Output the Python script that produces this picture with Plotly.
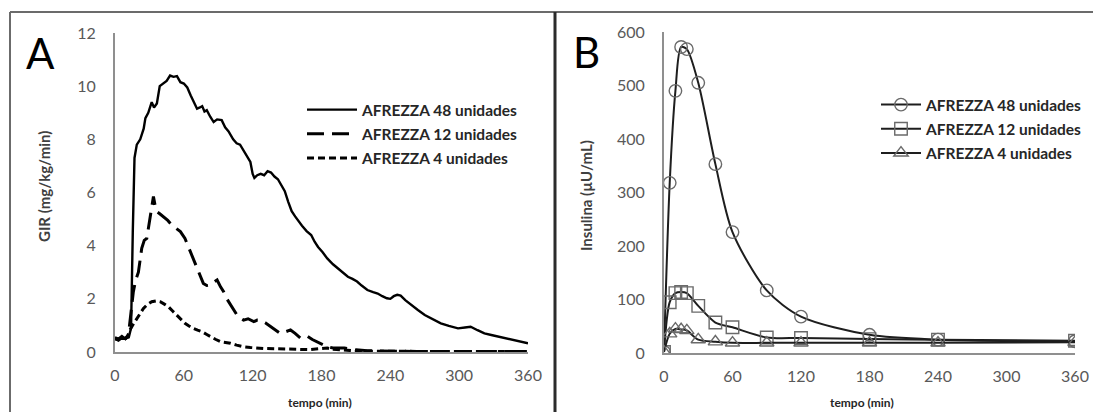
import plotly.graph_objects as go

# ---------------- data: panel A (GIR, mg/kg/min) ----------------
t_gir_48 = [0, 3, 6, 9, 12, 14, 15.5, 17, 19, 22, 25, 26.5, 29, 32, 34, 36.5, 39, 42, 45, 48, 51, 54, 57, 60,
            63, 66, 69, 71.5, 74, 76, 78, 80, 83, 86, 89, 93, 96, 99, 103, 106, 109, 112, 115, 118, 120, 121.5,
            124, 127, 130, 133, 136, 139, 142, 145, 148, 151, 154, 157, 160, 163, 167, 171, 174, 177, 181, 185,
            190, 194, 198, 203, 207, 211, 215, 220, 225, 229, 233, 237, 240, 243, 246, 249, 253, 258, 264, 270,
            277, 284, 291, 299, 305, 310, 316, 322, 328, 334, 340, 346, 353, 360]
gir_48 = [0.55, 0.5, 0.6, 0.5, 0.55, 0.9, 4.5, 7.3, 7.8, 8.0, 8.4, 8.8, 9.0, 9.4, 9.2, 9.35, 10.0, 10.1, 10.2, 10.4,
          10.35, 10.38, 10.15, 10.1, 9.95, 9.65, 9.4, 9.15, 9.2, 9.25, 9.05, 9.1, 8.85, 8.65, 8.75, 8.72, 8.45,
          8.3, 8.0, 7.85, 7.8, 7.6, 7.35, 7.15, 6.7, 6.55, 6.65, 6.7, 6.65, 6.8, 6.75, 6.6, 6.5, 6.3, 6.05, 5.65,
          5.3, 5.1, 4.9, 4.75, 4.55, 4.4, 4.15, 3.95, 3.75, 3.52, 3.3, 3.15, 3.0, 2.83, 2.75, 2.65, 2.5, 2.33,
          2.25, 2.2, 2.1, 2.02, 2.0, 2.1, 2.15, 2.12, 1.95, 1.77, 1.58, 1.39, 1.22, 1.08, 0.98, 0.89, 0.92, 0.95,
          0.82, 0.7, 0.64, 0.58, 0.52, 0.45, 0.4, 0.33]

t_gir_12 = [0, 3, 6, 9, 11.7, 14, 16, 18, 20.4, 23.3, 25.5, 27.7, 30.6, 33.5, 35, 36.5, 39, 42, 46, 49.5, 53, 57,
            61, 63.5, 65.6, 68.5, 71.5, 74, 77, 80, 83, 86, 89, 92, 94.7, 97.5, 100.6, 103.5, 106.4, 109, 112,
            116, 121, 124, 127, 131, 135.6, 140, 144, 148, 153, 157, 162, 165, 168, 172, 176, 180, 185, 190, 195,
            200, 205, 210, 220, 230, 240, 260, 280, 300, 320, 340, 360]
gir_12 = [0.5, 0.45, 0.55, 0.5, 0.64, 1.4, 2.27, 2.7, 3.0, 3.9, 4.2, 4.27, 5.03, 5.85, 5.5, 5.28, 5.2, 5.09, 4.95,
          4.78, 4.65, 4.53, 4.27, 4.0, 3.77, 3.45, 3.15, 2.85, 2.58, 2.5, 2.52, 2.62, 2.71, 2.45, 2.27, 2.0, 1.77,
          1.55, 1.39, 1.28, 1.2, 1.25, 1.14, 1.2, 1.2, 1.1, 0.95, 0.8, 0.7, 0.75, 0.83, 0.7, 0.51, 0.55, 0.58,
          0.47, 0.39, 0.3, 0.2, 0.15, 0.15, 0.15, 0.12, 0.08, 0.05, 0.04, 0.03, 0.02, 0.02, 0.02, 0.02, 0.02, 0.02]

t_gir_4 = [0, 3, 6, 9, 11, 13, 16, 19, 22, 24.8, 28, 32, 36, 39.4, 43, 46.6, 50, 54, 57.5, 61, 64.5, 68, 72, 76,
           80, 83, 87.5, 92, 96, 100.6, 106, 112, 118, 124, 130, 140, 150, 160, 170, 180, 185, 190, 200, 210, 220,
           240, 260, 280, 300, 320, 340, 360]
gir_4 = [0.5, 0.45, 0.55, 0.5, 0.6, 0.83, 1.05, 1.27, 1.45, 1.64, 1.78, 1.89, 1.92, 1.89, 1.8, 1.7, 1.55, 1.39,
         1.22, 1.08, 0.98, 0.89, 0.82, 0.76, 0.66, 0.58, 0.48, 0.39, 0.36, 0.33, 0.26, 0.2, 0.17, 0.14, 0.13, 0.12,
         0.1, 0.1, 0.09, 0.12, 0.15, 0.1, 0.06, 0.04, 0.03, 0.02, 0.02, 0.02, 0.02, 0.02, 0.02, 0.02]

# ---------------- data: panel B (insulin, µU/mL) ----------------
t_ins = [0, 5, 10, 15, 20, 30, 45, 60, 90, 120, 180, 240, 360]
ins_48 = [2, 318, 490, 572, 568, 505, 353, 226, 117, 68, 34, 25, 22]
ins_12 = [2, 95, 112, 114, 112, 88, 57, 48, 29, 28, 26, 25, 23]
ins_4 = [2, 36, 45, 44, 42, 25, 21, 19, 19, 19, 19, 19, 20]

series_names = ["AFREZZA 48 unidades", "AFREZZA 12 unidades", "AFREZZA 4 unidades"]
x_ticks = [0, 60, 120, 180, 240, 300, 360]

# ---------------- geometry helpers (window pixels -> paper) ----------------
W, H = 1093, 412


def fx(x):
    return x / W


def fy(y):
    return 1 - y / H


FONT = "Lato"
TICK_COL = "#595959"

fig = go.Figure()

# Panel A
dashes = ["solid", "17px,8px", "7px,4px"]
for i, (tt, vv) in enumerate([(t_gir_48, gir_48), (t_gir_12, gir_12), (t_gir_4, gir_4)]):
    fig.add_trace(go.Scatter(
        x=tt, y=vv, mode="lines", name=series_names[i],
        line=dict(color="black", width=2.4 if i == 0 else 3, dash=dashes[i]),
        xaxis="x", yaxis="y", legend="legend", legendgroup="a%d" % i,
    ))

# Panel B
symbols = ["circle-open", "square-open", "triangle-up-open"]
for i, vv in enumerate([ins_48, ins_12, ins_4]):
    fig.add_trace(go.Scatter(
        x=t_ins, y=vv, mode="lines+markers", name=series_names[i],
        line=dict(color="#1e1e1e", width=2, shape="spline", smoothing=0.8),
        marker=dict(symbol=symbols[i], size=12.5, color="#6a6a6a", line=dict(width=1.4, color="#6a6a6a")),
        xaxis="x2", yaxis="y2", legend="legend2", legendgroup="b%d" % i,
    ))

axis_common = dict(showline=True, linecolor="#8f8f8f", linewidth=2, showgrid=False, zeroline=False,
                   automargin=False, ticks="outside", tickcolor="rgba(0,0,0,0)",
                   tickfont=dict(family=FONT, size=16, color=TICK_COL))

legend_font = dict(family=FONT, size=15.5, color="#262626", weight="bold")

fig.update_layout(
    width=W, height=H,
    margin=dict(l=0, r=0, t=0, b=0, autoexpand=False),
    paper_bgcolor="white", plot_bgcolor="white",
    xaxis=dict(domain=[fx(115), fx(528)], range=[0, 360], tickvals=x_ticks, ticklen=8,
               anchor="y", **axis_common),
    yaxis=dict(domain=[fy(352), fy(33)], range=[0, 12], dtick=2, ticklen=14, anchor="x", **axis_common),
    xaxis2=dict(domain=[fx(664), fx(1075)], range=[0, 360], tickvals=x_ticks, ticklen=8,
                anchor="y2", **axis_common),
    yaxis2=dict(domain=[fy(353), fy(32)], range=[0, 600], dtick=100, ticklen=14, anchor="x2", **axis_common),
    legend=dict(x=fx(302), y=fy(93), xanchor="left", yanchor="top", bgcolor="rgba(0,0,0,0)",
                font=legend_font, tracegroupgap=1, itemwidth=50),
    legend2=dict(x=fx(876), y=fy(88), xanchor="left", yanchor="top", bgcolor="rgba(0,0,0,0)",
                 font=legend_font, tracegroupgap=1, itemwidth=40),
    showlegend=True,
)

# Frames around the two panels
frame = dict(type="line", xref="paper", yref="paper", line=dict(color="#6b6b6b", width=2))
fig.add_shape(x0=fx(10), x1=fx(1093), y0=fy(12), y1=fy(12), **frame)
fig.add_shape(x0=fx(10), x1=fx(10), y0=fy(12), y1=fy(420), **frame)
fig.add_shape(x0=fx(555), x1=fx(555), y0=fy(12), y1=fy(420), type="line", xref="paper", yref="paper",
              line=dict(color="#2b2b2b", width=3))

ann_common = dict(xref="paper", yref="paper", showarrow=False, xanchor="center", yanchor="middle")
fig.add_annotation(x=fx(40), y=fy(53), text="A", font=dict(family=FONT, size=42, color="black"), **ann_common)
fig.add_annotation(x=fx(586), y=fy(52), text="B", font=dict(family=FONT, size=42, color="black"), **ann_common)
title_font = dict(family=FONT, size=15, color="#404040", weight="bold")
fig.add_annotation(x=fx(44), y=fy(187), text="GIR (mg/kg/min)", textangle=-90, font=title_font, **ann_common)
fig.add_annotation(x=fx(586), y=fy(196), text="Insulina (µU/mL)", textangle=-90, font=title_font, **ann_common)
xt_font = dict(family=FONT, size=12, color="#262626", weight="bold")
fig.add_annotation(x=fx(320), y=fy(402), text="tempo (min)", font=xt_font, **ann_common)
fig.add_annotation(x=fx(862), y=fy(402), text="tempo (min)", font=xt_font, **ann_common)

fig.write_html(
    "out.html",
    config={"displayModeBar": False},
    post_script="document.body.style.margin='0';document.body.style.overflow='hidden';",
)
